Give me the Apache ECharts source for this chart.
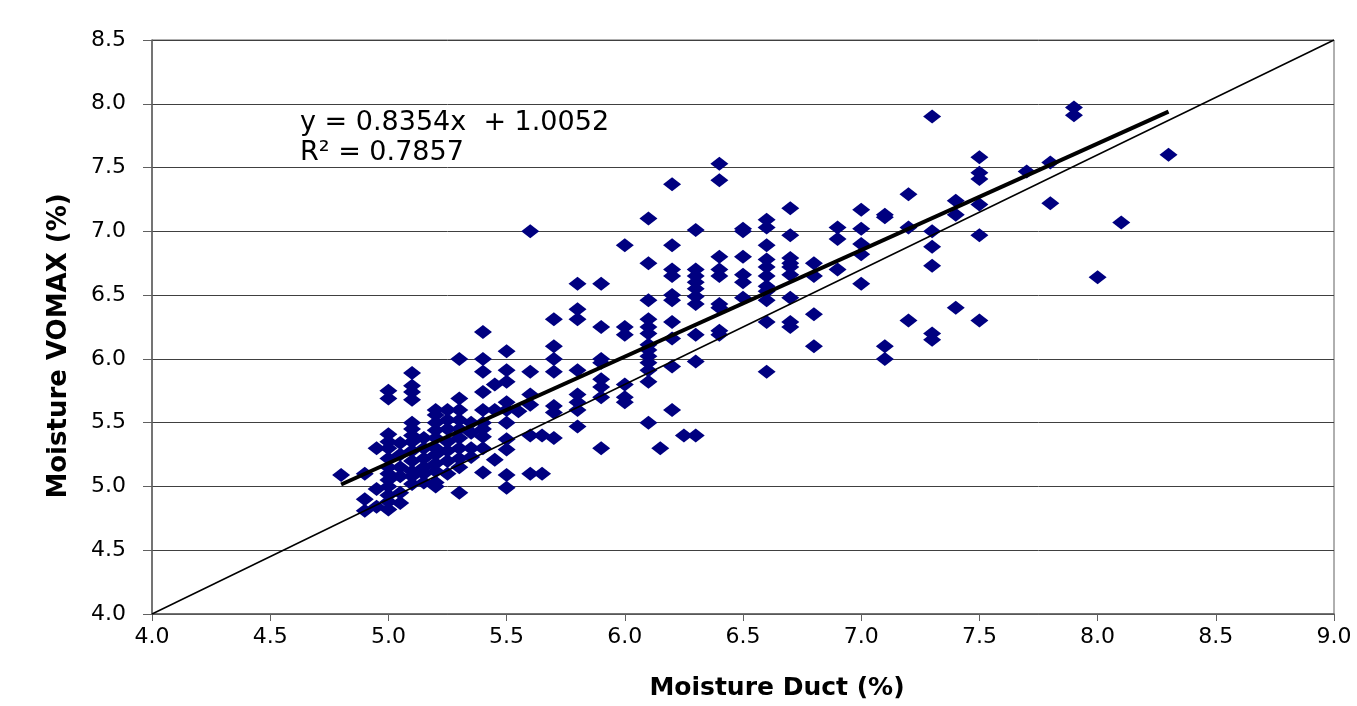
<!DOCTYPE html>
<html>
<head>
<meta charset="utf-8">
<script src="https://cdn.jsdelivr.net/npm/echarts@6/dist/echarts.min.js"></script>
<style>
html,body{margin:0;padding:0;background:#fff;}
#chart{width:1357px;height:706px;}
</style>
</head>
<body>
<div id="chart"></div>
<script>
// Measured points: [Moisture Duct (%), Moisture VOMAX (%)]
const points = [
  [4.8,5.09],
  [4.9,5.1],[4.9,4.9],[4.9,4.81],
  [4.95,5.3],[4.95,4.98],[4.95,4.84],
  [5.0,5.75],[5.0,5.69],[5.0,5.41],[5.0,5.35],[5.0,5.3],[5.0,5.22],[5.0,5.15],[5.0,5.1],[5.0,5.05],[5.0,5.0],[5.0,4.93],[5.0,4.88],[5.0,4.82],
  [5.05,5.34],[5.05,5.25],[5.05,5.15],[5.05,5.08],[5.05,4.95],[5.05,4.87],
  [5.1,5.89],[5.1,5.79],[5.1,5.74],[5.1,5.68],[5.1,5.5],[5.1,5.45],[5.1,5.4],[5.1,5.35],[5.1,5.28],[5.1,5.2],[5.1,5.12],[5.1,5.08],[5.1,5.02],
  [5.15,5.38],[5.15,5.3],[5.15,5.22],[5.15,5.15],[5.15,5.1],[5.15,5.03],
  [5.2,5.6],[5.2,5.56],[5.2,5.5],[5.2,5.44],[5.2,5.38],[5.2,5.3],[5.2,5.25],[5.2,5.18],[5.2,5.12],[5.2,5.03],[5.2,5.0],
  [5.25,5.6],[5.25,5.52],[5.25,5.45],[5.25,5.35],[5.25,5.28],[5.25,5.2],[5.25,5.1],
  [5.3,6.0],[5.3,5.69],[5.3,5.6],[5.3,5.52],[5.3,5.45],[5.3,5.38],[5.3,5.3],[5.3,5.22],[5.3,5.15],[5.3,4.95],
  [5.35,5.5],[5.35,5.42],[5.35,5.3],[5.35,5.23],
  [5.4,6.21],[5.4,6.0],[5.4,5.9],[5.4,5.74],[5.4,5.6],[5.4,5.5],[5.4,5.45],[5.4,5.39],[5.4,5.3],[5.4,5.11],
  [5.45,5.8],[5.45,5.6],[5.45,5.21],
  [5.5,6.06],[5.5,5.91],[5.5,5.82],[5.5,5.66],[5.5,5.6],[5.5,5.5],[5.5,5.37],[5.5,5.29],[5.5,5.09],[5.5,4.99],
  [5.55,5.59],
  [5.6,7.0],[5.6,5.9],[5.6,5.72],[5.6,5.64],[5.6,5.4],[5.6,5.1],
  [5.65,5.4],[5.65,5.1],
  [5.7,6.31],[5.7,6.1],[5.7,6.0],[5.7,5.9],[5.7,5.63],[5.7,5.58],[5.7,5.38],
  [5.8,6.59],[5.8,6.39],[5.8,6.31],[5.8,5.91],[5.8,5.72],[5.8,5.66],[5.8,5.6],[5.8,5.47],
  [5.9,6.59],[5.9,6.25],[5.9,6.0],[5.9,5.97],[5.9,5.84],[5.9,5.78],[5.9,5.7],[5.9,5.3],
  [6.0,6.89],[6.0,6.25],[6.0,6.19],[6.0,5.8],[6.0,5.7],[6.0,5.66],
  [6.1,7.1],[6.1,6.75],[6.1,6.46],[6.1,6.31],[6.1,6.25],[6.1,6.2],[6.1,6.11],[6.1,6.07],[6.1,6.02],[6.1,5.97],[6.1,5.91],[6.1,5.82],[6.1,5.5],
  [6.15,5.3],
  [6.2,7.37],[6.2,6.89],[6.2,6.7],[6.2,6.65],[6.2,6.5],[6.2,6.46],[6.2,6.29],[6.2,6.16],[6.2,5.94],[6.2,5.6],
  [6.25,5.4],
  [6.3,7.01],[6.3,6.7],[6.3,6.65],[6.3,6.6],[6.3,6.55],[6.3,6.49],[6.3,6.43],[6.3,6.19],[6.3,5.98],[6.3,5.4],
  [6.4,7.53],[6.4,7.4],[6.4,6.8],[6.4,6.7],[6.4,6.65],[6.4,6.43],[6.4,6.4],[6.4,6.22],[6.4,6.19],
  [6.5,7.02],[6.5,7.0],[6.5,6.8],[6.5,6.66],[6.5,6.6],[6.5,6.48],
  [6.6,7.09],[6.6,7.03],[6.6,6.89],[6.6,6.78],[6.6,6.72],[6.6,6.65],[6.6,6.57],[6.6,6.53],[6.6,6.46],[6.6,6.29],[6.6,5.9],
  [6.7,7.18],[6.7,6.97],[6.7,6.79],[6.7,6.75],[6.7,6.72],[6.7,6.66],[6.7,6.48],[6.7,6.29],[6.7,6.25],
  [6.8,6.75],[6.8,6.65],[6.8,6.35],[6.8,6.1],
  [6.9,7.03],[6.9,6.94],[6.9,6.7],
  [7.0,7.17],[7.0,7.02],[7.0,6.9],[7.0,6.82],[7.0,6.59],
  [7.1,7.13],[7.1,7.11],[7.1,6.1],[7.1,6.0],
  [7.2,7.29],[7.2,7.03],[7.2,6.3],
  [7.3,7.9],[7.3,7.0],[7.3,6.88],[7.3,6.73],[7.3,6.2],[7.3,6.15],
  [7.4,7.24],[7.4,7.13],[7.4,6.4],
  [7.5,7.58],[7.5,7.46],[7.5,7.41],[7.5,7.21],[7.5,6.97],[7.5,6.3],
  [7.7,7.47],
  [7.8,7.54],[7.8,7.22],
  [7.9,7.97],[7.9,7.91],
  [8.0,6.64],
  [8.1,7.07],
  [8.3,7.6]
];
// Linear trend line endpoints (y = 0.8354x + 1.0052)
const trendLine = [[4.8,5.015],[8.3,7.939]];
// Reference line drawn in the chart
const refLine = [[4.0,4.0],[9.0,8.5]];
const xTicks = ['4.0','4.5','5.0','5.5','6.0','6.5','7.0','7.5','8.0','8.5','9.0'];
const yTicks = ['4.0','4.5','5.0','5.5','6.0','6.5','7.0','7.5','8.0','8.5'];
const equationText = 'y = 0.8354x  + 1.0052';
const r2Text = 'R\u00b2 = 0.7857';

const chart = echarts.init(document.getElementById('chart'));
const font = 'DejaVu Sans';
chart.setOption({
  animation: false,
  backgroundColor: '#ffffff',
  grid: {left: 152, right: 23, top: 40, bottom: 91, show: true, borderColor: '#606060', borderWidth: 1},
  xAxis: {
    type: 'value', min: 4, max: 9, interval: 0.5,
    name: 'Moisture Duct (%)', nameLocation: 'middle', nameGap: 62,
    nameTextStyle: {fontFamily: font, fontWeight: 'bold', fontSize: 25, color: '#000', padding: [0, 0, 0, 68]},
    axisLine: {show: true, lineStyle: {color: '#606060', width: 1.5}},
    axisTick: {show: true, inside: false, length: 7, lineStyle: {color: '#606060'}},
    axisLabel: {fontFamily: font, fontSize: 22, color: '#000', margin: 12,
      formatter: v => xTicks[Math.round((v - 4) / 0.5)]},
    splitLine: {show: false}
  },
  yAxis: {
    type: 'value', min: 4, max: 8.5, interval: 0.5,
    name: 'Moisture VOMAX (%)', nameLocation: 'middle', nameGap: 80, nameRotate: 90,
    nameTextStyle: {fontFamily: font, fontWeight: 'bold', fontSize: 26, color: '#000', padding: [0, 38, 0, 0]},
    axisLine: {show: true, lineStyle: {color: '#606060', width: 1.5}},
    axisTick: {show: true, inside: false, length: 9, lineStyle: {color: '#606060'}},
    axisLabel: {fontFamily: font, fontSize: 22, color: '#000', margin: 26,
      formatter: v => yTicks[Math.round((v - 4) / 0.5)]},
    splitLine: {show: true, lineStyle: {color: '#404040', width: 1}}
  },
  graphic: [{
    type: 'text', left: 300, top: 108, z: 10,
    style: {text: equationText + '\n' + r2Text, fontFamily: font, fontSize: 27, lineHeight: 30, fill: '#000'}
  }],
  series: [
    {type: 'scatter', data: points, symbol: 'diamond', symbolSize: [18, 14],
     itemStyle: {color: '#000080', opacity: 1}, z: 2},
    {type: 'line', data: refLine, symbol: 'none', lineStyle: {color: '#000', width: 1.5}, z: 3},
    {type: 'line', data: trendLine, symbol: 'none', lineStyle: {color: '#000', width: 4}, z: 4}
  ]
});
</script>
</body>
</html>
